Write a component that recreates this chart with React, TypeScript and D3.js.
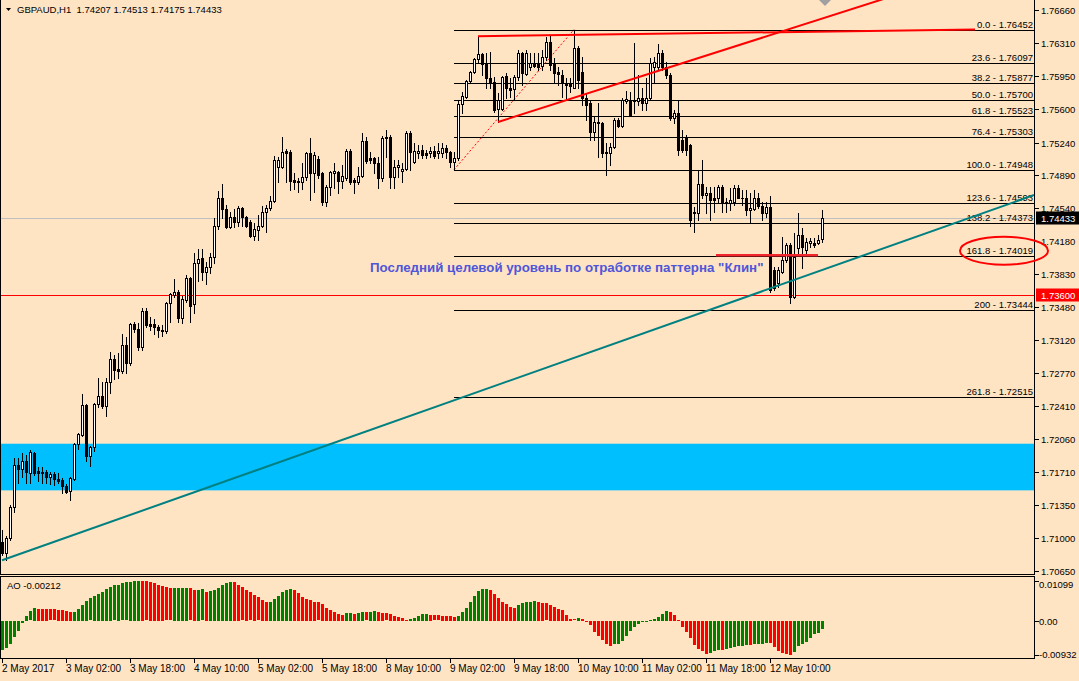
import React from "react";
import * as d3 from "d3";

// ---------- Data (GBPAUD H1, 206 bars) ----------
const openP = [
1.7096,1.7084,1.7100,1.7133,1.7178,1.7174,1.7182,1.7170,1.7191,1.7172,
1.7171,1.7171,1.7165,1.7169,1.7163,1.7162,1.7156,1.7150,1.7163,1.7201,
1.7210,1.7242,1.7188,1.7198,1.7244,1.7252,1.7241,1.7267,1.7292,1.7281,
1.7279,1.7307,1.7288,1.7329,1.7324,1.7305,1.7343,1.7329,1.7329,1.7326,
1.7323,1.7322,1.7352,1.7360,1.7364,1.7336,1.7355,1.7379,1.7351,1.7395,
1.7400,1.7385,1.7390,1.7401,1.7435,1.7464,1.7453,1.7433,1.7444,1.7439,
1.7454,1.7444,1.7439,1.7424,1.7430,1.7435,1.7450,1.7454,1.7461,1.7498,
1.7498,1.7515,1.7514,1.7484,1.7483,1.7482,1.7487,1.7513,1.7491,1.7506,
1.7491,1.7460,1.7476,1.7491,1.7492,1.7483,1.7486,1.7515,1.7484,1.7482,
1.7488,1.7526,1.7507,1.7507,1.7502,1.7486,1.7529,1.7530,1.7487,1.7498,
1.7493,1.7496,1.7534,1.7503,1.7513,1.7516,1.7513,1.7513,1.7515,1.7513,
1.7513,1.7518,1.7514,1.7503,1.7507,1.7565,1.7573,1.7590,1.7600,1.7614,
1.7619,1.7608,1.7593,1.7589,1.7560,1.7560,1.7595,1.7582,1.7581,1.7594,
1.7620,1.7597,1.7605,1.7609,1.7608,1.7606,1.7616,1.7632,1.7608,1.7600,
1.7596,1.7588,1.7587,1.7583,1.7625,1.7600,1.7572,1.7566,1.7535,1.7546,
1.7545,1.7514,1.7513,1.7519,1.7548,1.7542,1.7568,1.7570,1.7570,1.7568,
1.7572,1.7566,1.7572,1.7605,1.7605,1.7620,1.7605,1.7596,1.7550,1.7556,
1.7527,1.7529,1.7521,1.7448,1.7448,1.7480,1.7468,1.7470,1.7465,1.7465,
1.7476,1.7460,1.7459,1.7460,1.7475,1.7465,1.7464,1.7452,1.7453,1.7464,
1.7456,1.7448,1.7455,1.7387,1.7373,1.7385,1.7398,1.7414,1.7358,1.7411,
1.7425,1.7409,1.7416,1.7416,1.7416,1.74207
];
const highP = [
1.7108,1.7102,1.7135,1.7186,1.7186,1.7191,1.7189,1.7194,1.7192,1.7176,
1.7176,1.7173,1.7171,1.7171,1.7170,1.7164,1.7158,1.7165,1.7202,1.7212,
1.7254,1.7244,1.7199,1.7245,1.7271,1.7267,1.7271,1.7299,1.7296,1.7298,
1.7319,1.7315,1.7330,1.7331,1.7330,1.7347,1.7347,1.7337,1.7335,1.7328,
1.7328,1.7353,1.7363,1.7378,1.7366,1.7359,1.7382,1.7380,1.7405,1.7410,
1.7410,1.7396,1.7406,1.7443,1.7472,1.7480,1.7457,1.7449,1.7453,1.7456,
1.7455,1.7445,1.7441,1.7438,1.7446,1.7456,1.7457,1.7467,1.7510,1.7508,
1.7530,1.7517,1.7516,1.7491,1.7486,1.7502,1.7514,1.7529,1.7514,1.7510,
1.7492,1.7478,1.7493,1.7502,1.7493,1.7500,1.7517,1.7517,1.7486,1.7498,
1.7534,1.7530,1.7514,1.7508,1.7508,1.7531,1.7537,1.7532,1.7505,1.7505,
1.7502,1.7536,1.7536,1.7523,1.7521,1.7521,1.7516,1.7519,1.7520,1.7523,
1.7523,1.7521,1.7515,1.7514,1.7570,1.7578,1.7591,1.7601,1.7615,1.7638,
1.7620,1.7620,1.7621,1.7594,1.7577,1.7595,1.7599,1.7593,1.7596,1.7623,
1.7621,1.7623,1.7620,1.7620,1.7620,1.7623,1.7637,1.7639,1.7615,1.7605,
1.7602,1.7593,1.7593,1.76452,1.7628,1.7616,1.7577,1.7570,1.7551,1.7566,
1.7546,1.7523,1.7523,1.7550,1.7550,1.7572,1.7579,1.7578,1.7631,1.7596,
1.7583,1.7593,1.7615,1.7616,1.7630,1.7623,1.7610,1.7599,1.7559,1.7570,
1.7537,1.7532,1.7522,1.7455,1.7495,1.7505,1.7476,1.7476,1.7476,1.7478,
1.7478,1.7465,1.7475,1.7478,1.7478,1.7473,1.7473,1.7470,1.7473,1.7470,
1.7460,1.7460,1.7467,1.7390,1.7390,1.7423,1.7416,1.7416,1.7427,1.7448,
1.7432,1.7422,1.7422,1.7422,1.7425,1.74513
];
const lowP = [
1.7082,1.7076,1.7098,1.7128,1.7159,1.7165,1.7159,1.7159,1.7167,1.7161,
1.7159,1.7159,1.7158,1.7157,1.7159,1.7148,1.7148,1.7141,1.7162,1.7195,
1.7209,1.7183,1.7177,1.7193,1.7240,1.7239,1.7231,1.7255,1.7270,1.7272,
1.7277,1.7277,1.7285,1.7321,1.7301,1.7301,1.7326,1.7323,1.7319,1.7315,
1.7317,1.7320,1.7331,1.7358,1.7331,1.7330,1.7353,1.7331,1.7341,1.7376,
1.7377,1.7372,1.7384,1.7395,1.7431,1.7443,1.7432,1.7432,1.7433,1.7435,
1.7435,1.7433,1.7423,1.7419,1.7420,1.7433,1.7428,1.7452,1.7460,1.7482,
1.7497,1.7482,1.7473,1.7474,1.7471,1.7474,1.7484,1.7462,1.7471,1.7486,
1.7457,1.7456,1.7468,1.7475,1.7470,1.7475,1.7484,1.7480,1.7470,1.7480,
1.7487,1.7502,1.7502,1.7491,1.7475,1.7483,1.7508,1.7475,1.7475,1.7487,
1.7482,1.7495,1.7495,1.7502,1.7507,1.7507,1.7507,1.7508,1.7507,1.7507,
1.7508,1.7507,1.7498,1.74948,1.7505,1.7556,1.7572,1.7589,1.7599,1.7610,
1.7596,1.7583,1.7583,1.7557,1.7546,1.7559,1.7572,1.7573,1.7570,1.7591,
1.7586,1.7596,1.7602,1.7605,1.7602,1.7602,1.7612,1.7602,1.7588,1.7586,
1.7573,1.7570,1.7578,1.7582,1.7582,1.7564,1.7548,1.7527,1.7527,1.7508,
1.7508,1.7489,1.7500,1.7518,1.7541,1.7541,1.7566,1.7553,1.7556,1.7564,
1.7559,1.7559,1.7570,1.7589,1.7602,1.7602,1.7593,1.7548,1.7545,1.7511,
1.7514,1.7511,1.7435,1.7428,1.7441,1.7465,1.7448,1.7441,1.7449,1.7460,
1.7449,1.7449,1.7452,1.7457,1.7464,1.7457,1.7446,1.7438,1.7452,1.7454,
1.7441,1.7444,1.7364,1.7366,1.7369,1.7384,1.7396,1.7352,1.7357,1.7405,
1.7389,1.7403,1.7412,1.7412,1.7415,1.74175
];
const closeP = [
1.7084,1.7100,1.7133,1.7178,1.7174,1.7182,1.7171,1.7192,1.7170,1.7170,
1.7170,1.7165,1.7169,1.7163,1.7161,1.7156,1.7149,1.7164,1.7201,1.7211,
1.7242,1.7188,1.7198,1.7244,1.7252,1.7241,1.7267,1.7292,1.7280,1.7279,
1.7307,1.7288,1.7329,1.7324,1.7305,1.7343,1.7328,1.7327,1.7326,1.7323,
1.7322,1.7352,1.7362,1.7364,1.7336,1.7356,1.7379,1.7349,1.7395,1.7399,
1.7385,1.7390,1.7401,1.7434,1.7464,1.7453,1.7433,1.7444,1.7439,1.7454,
1.7444,1.7434,1.7424,1.7431,1.7435,1.7450,1.7454,1.7461,1.7505,1.7505,
1.7514,1.7513,1.7483,1.7482,1.7482,1.7487,1.7513,1.7491,1.7511,1.7489,
1.7460,1.7476,1.7492,1.7493,1.7483,1.7488,1.7515,1.7482,1.7482,1.7488,
1.7526,1.7504,1.7505,1.7502,1.7486,1.7529,1.7530,1.7487,1.7498,1.7500,
1.7496,1.7534,1.7514,1.7515,1.7515,1.7511,1.7511,1.7515,1.7510,1.7515,
1.7518,1.7514,1.7503,1.7507,1.7565,1.7574,1.7590,1.7600,1.7614,1.7619,
1.7608,1.7593,1.7589,1.7559,1.7570,1.7594,1.7582,1.7580,1.7594,1.7620,
1.7599,1.7620,1.7609,1.7606,1.7605,1.7616,1.7632,1.7607,1.7599,1.7597,
1.7588,1.7586,1.7585,1.7625,1.7591,1.7572,1.7564,1.7535,1.7546,1.7545,
1.7513,1.7513,1.7519,1.7548,1.7542,1.7570,1.7571,1.7554,1.7568,1.7572,
1.7566,1.7572,1.7609,1.7610,1.7620,1.7605,1.7596,1.7550,1.7556,1.7516,
1.7516,1.7516,1.7441,1.7449,1.7480,1.7468,1.7470,1.7462,1.7462,1.7476,
1.7459,1.7459,1.7462,1.7475,1.7465,1.7464,1.7452,1.7454,1.7464,1.7456,
1.7448,1.7455,1.7366,1.7368,1.7387,1.7398,1.7414,1.7358,1.7401,1.7425,
1.7412,1.7417,1.7418,1.7414,1.7420,1.74433
];
// Awesome Oscillator values
const aoValues = [
-0.00806,-0.00751,-0.00641,-0.00440,-0.00275,-0.00055,0.00128,0.00256,0.00348,0.00330,
0.00321,0.00316,0.00311,0.00307,0.00293,0.00289,0.00266,0.00238,0.00247,0.00330,
0.00440,0.00540,0.00614,0.00678,0.00733,0.00788,0.00870,0.00934,0.00971,0.00989,
0.01026,0.01053,0.01072,0.01090,0.01099,0.01090,0.01081,0.01063,0.01035,0.00989,
0.00953,0.00916,0.00889,0.00898,0.00902,0.00907,0.00911,0.00889,0.00843,0.00852,
0.00861,0.00797,0.00824,0.00852,0.00898,0.00980,0.01035,0.01072,0.01063,0.00980,
0.00916,0.00852,0.00779,0.00714,0.00641,0.00568,0.00513,0.00522,0.00595,0.00678,
0.00788,0.00852,0.00880,0.00852,0.00760,0.00650,0.00605,0.00568,0.00513,0.00504,
0.00458,0.00348,0.00293,0.00238,0.00183,0.00156,0.00211,0.00215,0.00183,0.00211,
0.00238,0.00229,0.00247,0.00266,0.00238,0.00211,0.00206,0.00183,0.00128,0.00101,
0.00073,0.00018,0.00046,0.00073,0.00128,0.00179,0.00183,0.00156,0.00151,0.00147,
0.00142,0.00128,0.00124,0.00101,0.00128,0.00238,0.00348,0.00513,0.00678,0.00815,
0.00870,0.00875,0.00843,0.00733,0.00623,0.00513,0.00458,0.00376,0.00348,0.00431,
0.00485,0.00513,0.00522,0.00540,0.00513,0.00485,0.00476,0.00431,0.00376,0.00330,
0.00293,0.00156,0.00046,0.00037,0.00073,0.00046,-0.00018,-0.00110,-0.00302,-0.00412,
-0.00522,-0.00641,-0.00687,-0.00641,-0.00623,-0.00550,-0.00421,-0.00275,-0.00165,-0.00073,
-0.00023,-0.00014,0.00018,0.00046,0.00110,0.00183,0.00266,0.00238,0.00156,0.00018,
-0.00165,-0.00302,-0.00467,-0.00660,-0.00769,-0.00824,-0.00907,-0.00879,-0.00824,-0.00797,
-0.00806,-0.00769,-0.00742,-0.00714,-0.00687,-0.00682,-0.00660,-0.00669,-0.00632,-0.00627,
-0.00623,-0.00605,-0.00614,-0.00714,-0.00824,-0.00879,-0.00907,-0.00932,-0.00852,-0.00687,
-0.00632,-0.00577,-0.00467,-0.00357,-0.00330,-0.00212
];

const priceTicks = [1.76660,1.76310,1.75950,1.75600,1.75240,1.74890,1.74540,1.74180,1.73830,1.73480,1.73120,1.72770,1.72410,1.72060,1.71710,1.71350,1.71000,1.70650];
const timeTickBars = [0,16,32,48,64,80,96,112,128,144,160,176,192];
const timeTickLabels = ["2 May 2017","3 May 02:00","3 May 18:00","4 May 10:00","5 May 02:00","5 May 18:00","8 May 10:00","9 May 02:00","9 May 18:00","10 May 10:00","11 May 02:00","11 May 18:00","12 May 10:00"];
const fibRatios = ["0.0","23.6","38.2","50.0","61.8","76.4","100.0","123.6","138.2","161.8","200","261.8"];
const fibPrices = [1.76452,1.76097,1.75877,1.75700,1.75523,1.75303,1.74948,1.74593,1.74373,1.74019,1.73444,1.72515];
const fibStartBar = 113;
const aoTicks = [0.01099, 0, -0.00932];
const aoTickLabels = ["0.01099", "0.00", "-0.00932"];

const bidPrice = 1.74433;
const levelPrice = 1.73600;
const zoneTop = 1.7201;
const zoneBottom = 1.7151;
// trend lines: [bar, price] anchor pairs
const wedgeUpper = [[119, 1.7638], [243.25, 1.76452]];
const wedgeLower = [[124, 1.7546], [170.75, 1.7610]];
const supportLine = [[0, 1.7076], [234.5, 1.7432]];
const fibBase = [[113, 1.74948], [143, 1.76452]];
const neckLine = [[178.5, 1.7403], [204, 1.7403]];
const ellipseCenter = [250.5, 1.7408];
const ellipseRadius = [11, 0.0015];
const noteAnchor = [92, 1.7385];
const noteText = "Последний целевой уровень по отработке паттерна \"Клин\"";
const headerText = "GBPAUD,H1  1.74207 1.74513 1.74175 1.74433";
const aoHeader = "AO -0.00212";

const FONT = "'Liberation Sans', Arial, Helvetica, sans-serif";

export default function App() {
  const plotR = 1034;
  const mainBottom = 574;
  const aoTop = 576, aoBottom = 658;

  const x = d3.scaleLinear().domain([0, openP.length - 1]).range([2, 822]);
  const y = d3.scaleLinear().domain([1.76452, 1.73444]).range([29.5, 310]);
  const yAO = d3.scaleLinear().domain([-0.00932, 0.01099]).range([654.6, 580.67]);
  const endBar = x.invert(plotR);
  const startBar = x.invert(0);

  const ray = (pts: number[][], extend: boolean) => {
    const [[i1, p1], [i2, p2]] = pts;
    const slope = (p2 - p1) / (i2 - i1);
    const iEnd = extend ? endBar : i2;
    return { x1: x(i1), y1: y(p1), x2: x(iEnd), y2: y(p1 + slope * (iEnd - i1)) };
  };

  const px = (v: number) => Math.round(v);

  const candles = openP.map((o, i) => {
    const c = closeP[i];
    const cx = px(x(i));
    const yh = px(y(highP[i]));
    const yl = px(y(lowP[i]));
    const yo = px(y(o));
    const yc = px(y(c));
    const top = Math.min(yo, yc);
    const bot = Math.max(yo, yc);
    const bull = c > o;
    return (
      <g key={i}>
        <rect x={cx} y={yh} width={1} height={yl - yh + 1} fill="#000" />
        <rect x={cx - 1} y={top} width={3} height={bot - top + 1} fill="#000" />
        {bull && bot - top >= 2 && (
          <rect x={cx} y={top + 1} width={1} height={bot - top - 1} fill="#fff" />
        )}
      </g>
    );
  });

  const zeroY = yAO(0);
  const aoBars = aoValues.map((v, i) => {
    const cx = px(x(i));
    const yv = yAO(v);
    const up = i === 0 || v > aoValues[i - 1];
    const top = Math.round(Math.min(yv, zeroY));
    const h = Math.max(1, Math.round(Math.abs(yv - zeroY)));
    return <rect key={i} x={cx - 1} y={top} width={3} height={h} fill={up ? "#008000" : "#ff0000"} />;
  });

  const wu = ray(wedgeUpper, false);
  const wl = ray(wedgeLower, true);
  const sl = ray(supportLine, true);
  const fb = ray(fibBase, false);
  const nl = ray(neckLine, false);
  const fibX1 = px(x(fibStartBar));

  const bidY = px(y(bidPrice)) + 0.5;
  const lvlY = px(y(levelPrice)) + 0.5;

  return (
    <svg
      width={1079}
      height={681}
      style={{ position: "absolute", left: 0, top: 0, display: "block" }}
      fontFamily={FONT}
    >
      <defs>
        <clipPath id="mainClip">
          <rect x={1} y={0} width={plotR - 1} height={mainBottom} />
        </clipPath>
        <clipPath id="aoClip">
          <rect x={1} y={aoTop + 1} width={plotR - 1} height={aoBottom - aoTop - 1} />
        </clipPath>
      </defs>
      <rect x={0} y={0} width={1079} height={681} fill="#ffe4c4" />

      {/* ---- main chart ---- */}
      <g clipPath="url(#mainClip)">
        <rect
          x={x(startBar)}
          y={y(zoneTop)}
          width={x(endBar) - x(startBar)}
          height={y(zoneBottom) - y(zoneTop)}
          fill="#00bfff"
        />
        <line x1={0} x2={plotR} y1={bidY} y2={bidY} stroke="#c0c0c0" strokeWidth={1} shapeRendering="crispEdges" />
        <line x1={0} x2={plotR} y1={lvlY} y2={lvlY} stroke="#ff0000" strokeWidth={1} shapeRendering="crispEdges" />
        {fibPrices.map((p, k) => {
          const ly = px(y(p)) + 0.5;
          return (
            <g key={k}>
              <line x1={fibX1} x2={plotR} y1={ly} y2={ly} stroke="#000" strokeWidth={1} shapeRendering="crispEdges" />
              <text x={plotR - 1} y={ly - 2.5} fontSize={9.5} textAnchor="end" fill="#000">
                {`${fibRatios[k]} - ${p.toFixed(5)}`}
              </text>
            </g>
          );
        })}
        <line {...fb} stroke="#ff0000" strokeWidth={1} strokeDasharray="2 2" />
        {candles}
        <line {...sl} stroke="#008080" strokeWidth={2} />
        <line {...wl} stroke="#ff0000" strokeWidth={2} />
        <line {...wu} stroke="#ff0000" strokeWidth={2} />
        <line {...nl} stroke="#f0282d" strokeWidth={2.5} />
        <text x={x(noteAnchor[0])} y={y(noteAnchor[1])} fontSize={13.3} fontWeight="bold" fill="#4f56d8">
          {noteText}
        </text>
      </g>
      <polygon points="819,0 831,0 825,6" fill="#a0a0a0" />

      {/* header */}
      <polygon points="6,8 11,8 8.5,11" fill="#000" />
      <text x={17} y={13} fontSize={9.5} fill="#000" style={{ whiteSpace: "pre" }}>
        {headerText}
      </text>

      {/* frames */}
      <line x1={0.5} x2={0.5} y1={0} y2={mainBottom + 0.5} stroke="#000" shapeRendering="crispEdges" />
      <line x1={0} x2={plotR + 0.5} y1={mainBottom + 0.5} y2={mainBottom + 0.5} stroke="#000" shapeRendering="crispEdges" />
      <line x1={plotR + 0.5} x2={plotR + 0.5} y1={0} y2={mainBottom + 0.5} stroke="#000" shapeRendering="crispEdges" />

      {/* price axis */}
      {priceTicks.map((p, k) => {
        const ty = px(y(p)) + 0.5;
        return (
          <g key={k}>
            <line x1={plotR + 0.5} x2={plotR + 4.5} y1={ty} y2={ty} stroke="#000" shapeRendering="crispEdges" />
            <text x={1041} y={ty + 3.5} fontSize={9.5} fill="#000">{p.toFixed(5)}</text>
          </g>
        );
      })}
      <rect x={1036} y={bidY - 7} width={43} height={13} fill="#000" />
      <text x={1041} y={bidY + 3.5} fontSize={9.5} fill="#fff">{bidPrice.toFixed(5)}</text>
      <rect x={1036} y={lvlY - 7} width={43} height={13} fill="#ff0000" />
      <text x={1041} y={lvlY + 3.5} fontSize={9.5} fill="#fff">{levelPrice.toFixed(5)}</text>

      {/* ellipse (drawn over the axis edge) */}
      <ellipse
        cx={x(ellipseCenter[0])}
        cy={y(ellipseCenter[1])}
        rx={x(ellipseCenter[0] + ellipseRadius[0]) - x(ellipseCenter[0])}
        ry={y(ellipseCenter[1] - ellipseRadius[1]) - y(ellipseCenter[1])}
        fill="none"
        stroke="#ff0000"
        strokeWidth={2}
      />

      {/* ---- AO panel ---- */}
      <g clipPath="url(#aoClip)" shapeRendering="crispEdges">{aoBars}</g>
      <rect x={0.5} y={aoTop + 0.5} width={plotR} height={aoBottom - aoTop} fill="none" stroke="#000" shapeRendering="crispEdges" />
      <text x={7} y={589} fontSize={9.5} fill="#000">{aoHeader}</text>
      {aoTicks.map((v, k) => {
        const ty = Math.round(yAO(v)) + 0.5;
        const by = Math.min(Math.max(ty + 3.5, 588), 657.5);
        return (
          <g key={k}>
            <line x1={plotR + 0.5} x2={plotR + 4.5} y1={ty} y2={ty} stroke="#000" shapeRendering="crispEdges" />
            <text x={1039} y={by} fontSize={9.5} fill="#000">{aoTickLabels[k]}</text>
          </g>
        );
      })}

      {/* time axis */}
      {timeTickBars.map((b, k) => {
        const tx = px(x(b)) + 0.5;
        return (
          <g key={k}>
            <line x1={tx} x2={tx} y1={aoBottom + 0.5} y2={aoBottom + 4.5} stroke="#000" shapeRendering="crispEdges" />
            <text x={tx - 0.5} y={672} fontSize={10} fill="#000">{timeTickLabels[k]}</text>
          </g>
        );
      })}
    </svg>
  );
}
